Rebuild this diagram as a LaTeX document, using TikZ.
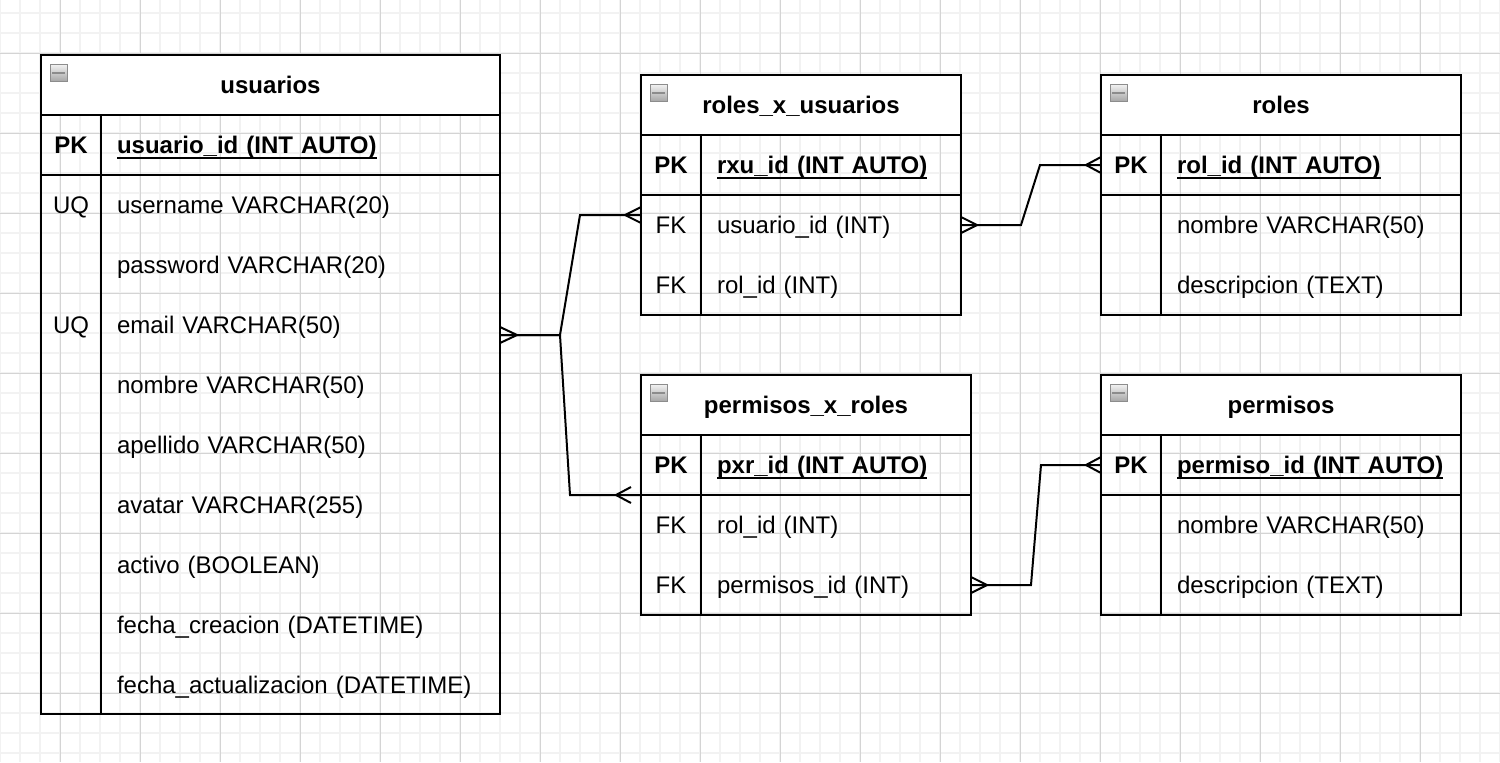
\documentclass[tikz,border=0pt]{standalone}
\usepackage{fontspec}
\setmainfont{Liberation Sans}
\newcommand\pkname[1]{\setbox0\hbox{#1}\rlap{\rule[-2.2pt]{\wd0}{0.7pt}}\box0}

\begin{document}
\begin{tikzpicture}[x=0.4pt, y=-0.4pt, font=\fontsize{9.6}{11.5}\selectfont]
	\tikzstyle{minor} = [line width=0.5pt, black!5]
	\tikzstyle{major} = [line width=0.4pt, black!17]
	\tikzstyle{Head} = [draw, fill=white, line width=0.8pt, minimum height=24pt, inner sep=0pt, outer sep=0pt, text height=6.9pt, text depth=0pt, anchor=north west, font=\fontsize{9.6}{11.5}\selectfont\bfseries]
	\tikzstyle{Body} = [draw, line width=0.8pt, inner sep=0pt, outer sep=0pt, anchor=north west]
	\tikzstyle{Key} = [minimum width=24pt, minimum height=24pt, inner sep=0pt, outer sep=0pt, text height=6.9pt, text depth=0pt]
	\tikzstyle{Field} = [anchor=west, minimum height=24pt, inner xsep=6.4pt, inner ysep=0pt, outer sep=0pt, text height=6.9pt, text depth=0pt, align=left]
	\tikzstyle{Line} = [line width=0.8pt]
	\tikzstyle{Rel} = [line width=0.8pt, line join=miter]
	\tikzstyle{Minus} = [draw=black!45, top color=black!5, bottom color=black!35, minimum size=6.8pt, inner sep=0pt, line width=0.4pt, path picture={\draw[line width=0.8pt] ([xshift=-2.6pt]path picture bounding box.center) -- ([xshift=2.6pt]path picture bounding box.center);}]
	\useasboundingbox (0,0) rectangle (1500,762);
	% grid
	\foreach \gx in {0,20,...,1500} \draw[minor] (\gx,0) -- (\gx,762);
	\foreach \gy in {13,33,...,762} \draw[minor] (0,\gy) -- (1500,\gy);
	\foreach \gx in {60,140,...,1500} \draw[major] (\gx,0) -- (\gx,762);
	\foreach \gy in {53,133,...,762} \draw[major] (0,\gy) -- (1500,\gy);
	% usuarios
	\node[Head, minimum width=183.6pt] (usr-t) at (41,55) {usuarios};
	\node[Body, minimum width=183.6pt, minimum height=239.6pt] (usr) at (usr-t.south west) {};
	\node[Minus] at ([xshift=7.1pt, yshift=-7.1pt]usr-t.north west) {};
	\node[Key] (usr-k0) at (71,145) {\bfseries PK};
	\node[Key] (usr-k1) at (71,205) {UQ};
	\node[Key] (usr-k3) at (71,325) {UQ};
	\node[Field, text width=146.8pt] (usr-f0) at (101,145) {\pkname{\textbf{usuario\_id (INT AUTO)}}};
	\foreach \txt [count=\i] in {username VARCHAR(20), password VARCHAR(20), email VARCHAR(50), nombre VARCHAR(50), apellido VARCHAR(50), avatar VARCHAR(255), activo (BOOLEAN), fecha\_creacion (DATETIME), fecha\_actualizacion (DATETIME)}
		\node[Field, text width=146.8pt] (usr-f\i) at (101,{145+60*\i}) {\txt};
	\draw[Line] (usr-k0.north east) -- (usr-k0.north east |- usr.south);
	\draw[Line] (usr-k0.south west) -- (usr-k0.south west -| usr.east);
	% roles_x_usuarios
	\node[Head, minimum width=128pt] (rxu-t) at (641,75) {roles\_x\_usuarios};
	\node[Body, minimum width=128pt, minimum height=72pt] (rxu) at (rxu-t.south west) {};
	\node[Minus] at ([xshift=7.1pt, yshift=-7.1pt]rxu-t.north west) {};
	\node[Key] (rxu-k0) at (671,165) {\bfseries PK};
	\node[Key] (rxu-k1) at (671,225) {FK};
	\node[Key] (rxu-k2) at (671,285) {FK};
	\node[Field, text width=91.2pt] (rxu-f0) at (701,165) {\pkname{\textbf{rxu\_id (INT AUTO)}}};
	\node[Field, text width=91.2pt] (rxu-f1) at (701,225) {usuario\_id (INT)};
	\node[Field, text width=91.2pt] (rxu-f2) at (701,285) {rol\_id (INT)};
	\draw[Line] (rxu-k0.north east) -- (rxu-k0.north east |- rxu.south);
	\draw[Line] (rxu-k0.south west) -- (rxu-k0.south west -| rxu.east);
	% roles
	\node[Head, minimum width=144pt] (rol-t) at (1101,75) {roles};
	\node[Body, minimum width=144pt, minimum height=72pt] (rol) at (rol-t.south west) {};
	\node[Minus] at ([xshift=7.1pt, yshift=-7.1pt]rol-t.north west) {};
	\node[Key] (rol-k0) at (1131,165) {\bfseries PK};
	\node[Field, text width=107.2pt] (rol-f0) at (1161,165) {\pkname{\textbf{rol\_id (INT AUTO)}}};
	\node[Field, text width=107.2pt] (rol-f1) at (1161,225) {nombre VARCHAR(50)};
	\node[Field, text width=107.2pt] (rol-f2) at (1161,285) {descripcion (TEXT)};
	\draw[Line] (rol-k0.north east) -- (rol-k0.north east |- rol.south);
	\draw[Line] (rol-k0.south west) -- (rol-k0.south west -| rol.east);
	% permisos_x_roles
	\node[Head, minimum width=132pt] (pxr-t) at (641,375) {permisos\_x\_roles};
	\node[Body, minimum width=132pt, minimum height=72pt] (pxr) at (pxr-t.south west) {};
	\node[Minus] at ([xshift=7.1pt, yshift=-7.1pt]pxr-t.north west) {};
	\node[Key] (pxr-k0) at (671,465) {\bfseries PK};
	\node[Key] (pxr-k1) at (671,525) {FK};
	\node[Key] (pxr-k2) at (671,585) {FK};
	\node[Field, text width=95.2pt] (pxr-f0) at (701,465) {\pkname{\textbf{pxr\_id (INT AUTO)}}};
	\node[Field, text width=95.2pt] (pxr-f1) at (701,525) {rol\_id (INT)};
	\node[Field, text width=95.2pt] (pxr-f2) at (701,585) {permisos\_id (INT)};
	\draw[Line] (pxr-k0.north east) -- (pxr-k0.north east |- pxr.south);
	\draw[Line] (pxr-k0.south west) -- (pxr-k0.south west -| pxr.east);
	% permisos
	\node[Head, minimum width=144pt] (perm-t) at (1101,375) {permisos};
	\node[Body, minimum width=144pt, minimum height=72pt] (perm) at (perm-t.south west) {};
	\node[Minus] at ([xshift=7.1pt, yshift=-7.1pt]perm-t.north west) {};
	\node[Key] (perm-k0) at (1131,465) {\bfseries PK};
	\node[Field, text width=107.2pt] (perm-f0) at (1161,465) {\pkname{\textbf{permiso\_id (INT AUTO)}}};
	\node[Field, text width=107.2pt] (perm-f1) at (1161,525) {nombre VARCHAR(50)};
	\node[Field, text width=107.2pt] (perm-f2) at (1161,585) {descripcion (TEXT)};
	\draw[Line] (perm-k0.north east) -- (perm-k0.north east |- perm.south);
	\draw[Line] (perm-k0.south west) -- (perm-k0.south west -| perm.east);
	% relations
	\draw[Rel] ([yshift=-4pt]usr-f3.east) -- (560,335) -- (580,215) -- ([yshift=4pt]rxu-k1.west);
	\draw[Rel] ([yshift=-4pt]usr-f3.east) -- (560,335) -- (570,495) -- (pxr-k0.south west);
	\draw[Rel] (rxu-f1.east) -- (1021,225) -- (1040,165) -- (rol-k0.west);
	\draw[Rel] (pxr-f2.east) -- (1031,585) -- (1041,465) -- (perm-k0.west);
	% crow's feet
	\draw[Rel] ([yshift=-4pt]usr-f3.east) ++(0,-8) -- ++(17,8) -- ++(-17,8);
	\draw[Rel] ([yshift=4pt]rxu-k1.west) ++(0,-8) -- ++(-16,8) -- ++(16,8);
	\draw[Rel] (pxr-k0.south west) ++(-10,-8) -- ++(-15,8) -- ++(15,8);
	\draw[Rel] (rxu-f1.east) ++(0,-8) -- ++(16,8) -- ++(-16,8);
	\draw[Rel] (rol-k0.west) ++(0,-8) -- ++(-15,8) -- ++(15,8);
	\draw[Rel] (pxr-f2.east) ++(0,-8) -- ++(16,8) -- ++(-16,8);
	\draw[Rel] (perm-k0.west) ++(0,-8) -- ++(-15,8) -- ++(15,8);
\end{tikzpicture}
\end{document}
